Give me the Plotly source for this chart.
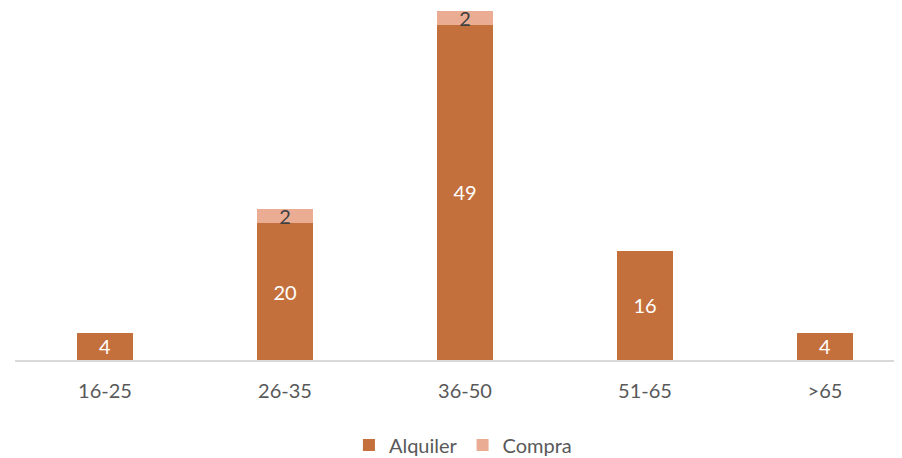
import plotly.graph_objects as go

categories = ["16-25", "26-35", "36-50", "51-65", ">65"]
alquiler = [4, 20, 49, 16, 4]
compra = [0, 2, 2, 0, 0]

c_alq = "#C4703D"
c_com = "#EAAD93"

fig = go.Figure()
fig.add_trace(go.Bar(
    x=categories, y=alquiler, name="Alquiler", marker_color=c_alq,
    marker_line_width=0, cliponaxis=False,
    text=[str(v) for v in alquiler], textposition="inside", insidetextanchor="middle",
    constraintext="none", textangle=0,
    textfont=dict(color="white", size=20, family="Lato"),
))
fig.add_trace(go.Bar(
    x=categories, y=compra, name="Compra", marker_color=c_com,
    marker_line_width=0, cliponaxis=False,
    text=[str(v) if v else "" for v in compra], textposition="inside", insidetextanchor="middle",
    constraintext="none", textangle=0,
    textfont=dict(color="#404040", size=20, family="Lato"),
))
fig.update_layout(
    barmode="stack",
    bargap=0.689,
    width=894, height=450,
    margin=dict(l=7, r=0, t=0, b=98, autoexpand=False),
    plot_bgcolor="white", paper_bgcolor="white",
    font=dict(family="Lato", color="#595959", size=20),
    xaxis=dict(range=[-0.5, 4.428], showline=True, linecolor="#D9D9D9", linewidth=2,
               ticks="", ticklabelstandoff=12, tickfont=dict(size=20, color="#595959"),
               fixedrange=True, automargin=False),
    yaxis=dict(range=[0, 51.44], visible=False, showgrid=False, automargin=False),
    legend=dict(orientation="h", x=0.505, xanchor="center", yref="container",
                y=0.029, yanchor="middle",
                font=dict(size=20, color="#595959"), traceorder="normal"),
    showlegend=True,
)
fig.write_html("out.html")
